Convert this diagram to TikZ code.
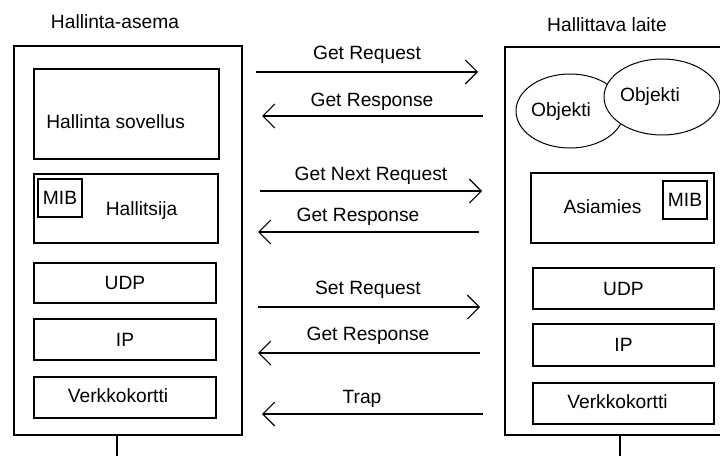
\documentclass[tikz,border=0pt]{standalone}
\usepackage{fontspec}
\setmainfont{Liberation Sans}
\usetikzlibrary{arrows.meta,shapes.geometric}
\begin{document}
\begin{tikzpicture}[x=0.75pt,y=-0.75pt,
  lbl/.style={inner sep=0pt,font=\fontsize{14.4}{17}\selectfont},
  frame/.style={draw,line width=0.9pt,inner sep=0pt},
  layer/.style={draw,line width=0.85pt,inner sep=0pt,font=\fontsize{14.4}{17}\selectfont},
  msg/.style={line width=0.8pt,-{Straight Barb[length=9pt,width=18pt,line width=0.8pt]}},
  obj/.style={draw,line width=0.75pt,ellipse,inner sep=0pt}]
\clip (0,0) rectangle (720,456);
\fill[white] (0,0) rectangle (720,456);

% management station
\node[lbl] (ttlL) at (115,22) {Hallinta-asema};
\node[frame,minimum width=171pt,minimum height=291.75pt] (stationL) at (128,240.5) {};
\node[layer,minimum width=138.75pt,minimum height=67.5pt] (app) at (126.5,114) {};
\node[lbl,anchor=west] (appTxt) at (46,122) {Hallinta sovellus};
\node[layer,minimum width=138pt,minimum height=51.75pt] (mgr) at (126,208.5) {};
\node[layer,minimum width=33pt,minimum height=28.5pt] (mibL) at (60,198) {MIB};
\node[lbl] (mgrTxt) at (141.5,211) {Hallitsija};
\node[layer,minimum width=136.5pt,minimum height=30pt] (udpL) at (125,283) {UDP};
\node[layer,minimum width=136.5pt,minimum height=30.75pt] (ipL) at (125,339.5) {IP};
\node[layer,minimum width=136.5pt,minimum height=30.75pt] (nicL) at (125,397.5) {};
\node[lbl] (nicLTxt) at (118,396) {Verkkokortti};
\coordinate (stubL) at (117,456);
\draw[line width=0.85pt] (stationL.south -| stubL) -- (stubL);

% managed device (its frame runs past the right edge)
\node[lbl] (ttlR) at (607,25) {Hallittava laite};
\draw[line width=0.9pt] (740,47) -- (505,47) -- (505,435) -- (740,435);
\node[obj,minimum width=81pt,minimum height=55.5pt] (objA) at (570,111) {};
\node[lbl] (objATxt) at (561,112) {Objekti};
\node[obj,fill=white,minimum width=87pt,minimum height=57pt] (objB) at (662,97) {};
\node[lbl] (objBTxt) at (650,97) {Objekti};
\node[layer,minimum width=137.25pt,minimum height=52.5pt] (agent) at (622.5,208) {};
\node[lbl] (agentTxt) at (602.5,207) {Asiamies};
\node[layer,minimum width=33pt,minimum height=28.5pt] (mibR) at (685,200) {MIB};
\node[layer,minimum width=135.75pt,minimum height=30.75pt] (udpR) at (623.5,288.5) {UDP};
\node[layer,minimum width=135.75pt,minimum height=31.5pt] (ipR) at (623.5,345) {IP};
\node[layer,minimum width=135.75pt,minimum height=30.75pt] (nicR) at (623.5,403.5) {};
\node[lbl] (nicRTxt) at (617.5,402) {Verkkokortti};
\coordinate (baseR) at (620,435);
\coordinate (stubR) at (620,456);
\draw[line width=0.85pt] (baseR) -- (stubR);

% SNMP messages
\coordinate (m1a) at (256,72);  \coordinate (m1b) at (478,72);
\coordinate (m2a) at (483,116); \coordinate (m2b) at (262,116);
\coordinate (m3a) at (260,191); \coordinate (m3b) at (482,191);
\coordinate (m4a) at (479,232); \coordinate (m4b) at (258,232);
\coordinate (m5a) at (258,307); \coordinate (m5b) at (480,307);
\coordinate (m6a) at (480,353); \coordinate (m6b) at (258,353);
\coordinate (m7a) at (483,414); \coordinate (m7b) at (262,414);
\draw[msg] (m1a) -- (m1b);
\draw[msg] (m2a) -- (m2b);
\draw[msg] (m3a) -- (m3b);
\draw[msg] (m4a) -- (m4b);
\draw[msg] (m5a) -- (m5b);
\draw[msg] (m6a) -- (m6b);
\draw[msg] (m7a) -- (m7b);
\node[lbl] (l1) at (367,55) {Get Request};
\node[lbl] (l2) at (372,102) {Get Response};
\node[lbl] (l3) at (371,176) {Get Next Request};
\node[lbl] (l4) at (358,217) {Get Response};
\node[lbl] (l5) at (368,290) {Set Request};
\node[lbl] (l6) at (368,336) {Get Response};
\node[lbl] (l7) at (362,399) {Trap};
\end{tikzpicture}
\end{document}
